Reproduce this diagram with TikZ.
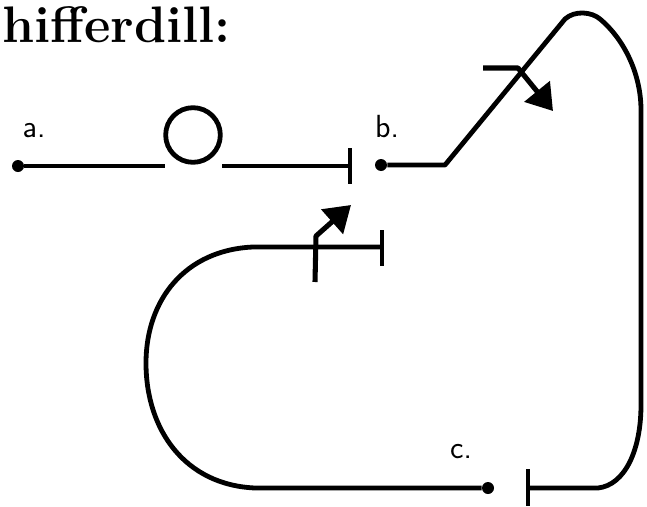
\documentclass[tikz,border=0pt]{standalone}
\usepackage{tikz}
\usetikzlibrary{arrows.meta,calc,positioning}
\tikzset{
  wire/.style={line width=3.6pt,line join=round},
  dot/.style={circle,fill=black,inner sep=0pt,minimum size=9pt},
  tickmark/.style={line width=2.8pt},
  lbl/.style={font=\sffamily\fontsize{24}{24}\selectfont,inner sep=0pt},
  twist/.style={line width=3.8pt,line join=round,-{Triangle[length=19pt,width=24pt]}},
}
\begin{document}
\begin{tikzpicture}[x=0.75pt,y=-0.75pt]
  \useasboundingbox (0,0) rectangle (647,507);
  \node[anchor=base west,inner sep=0pt,font=\bfseries\fontsize{38.5}{38.5}\selectfont] (title) at (2,42) {hifferdill:};
  % the three ends
  \node[dot] (a) at (18,166) {};
  \node[dot] (b) at (381,165) {};
  \node[dot] (c) at (488,488) {};
  \node[lbl] (la) at (34,131) {a.};
  \node[lbl] (lb) at (387,127) {b.};
  \node[lbl] (lc) at (461,452) {c.};
  % first strip with its ring
  \node[circle,draw,line width=3.6pt,minimum size=41pt,inner sep=0pt] (ring) at (193,135) {};
  \coordinate (a1) at (165,166);
  \coordinate (a2) at (222,166);
  \coordinate (t1) at (350,166);
  \coordinate (t2) at (382,247);
  \coordinate (t3) at (528,488);
  \draw[wire] (a) -- (a1);
  \draw[wire] (a2) -- (t1);
  % big loop from b
  \draw[wire] (b) -- (445,165) -- (565,19) .. controls (575,10) and (592,12) .. (600,19)
    .. controls (625,40) and (641,75) .. (641,110) -- (641,405)
    .. controls (641,450) and (625,485) .. (598,488) -- (t3);
  % loop from c
  \draw[wire] (c) -- (255,488) .. controls (185,485) and (146,430) .. (146,363)
    .. controls (146,300) and (185,250) .. (253,247) -- (t2);
  % cut ends
  \draw[tickmark] ($(t1)+(0,-18)$) -- ($(t1)+(0,18)$);
  \draw[tickmark] ($(t2)+(0,-17)$) -- ($(t2)+(0,19)$);
  \draw[tickmark] ($(t3)+(0,-19)$) -- ($(t3)+(0,18)$);
  % twists
  \draw[twist] (315,282) -- (316,236) -- (351,205);
  \draw[twist] (483,68) -- (518,68) -- (553,111);
\end{tikzpicture}
\end{document}
